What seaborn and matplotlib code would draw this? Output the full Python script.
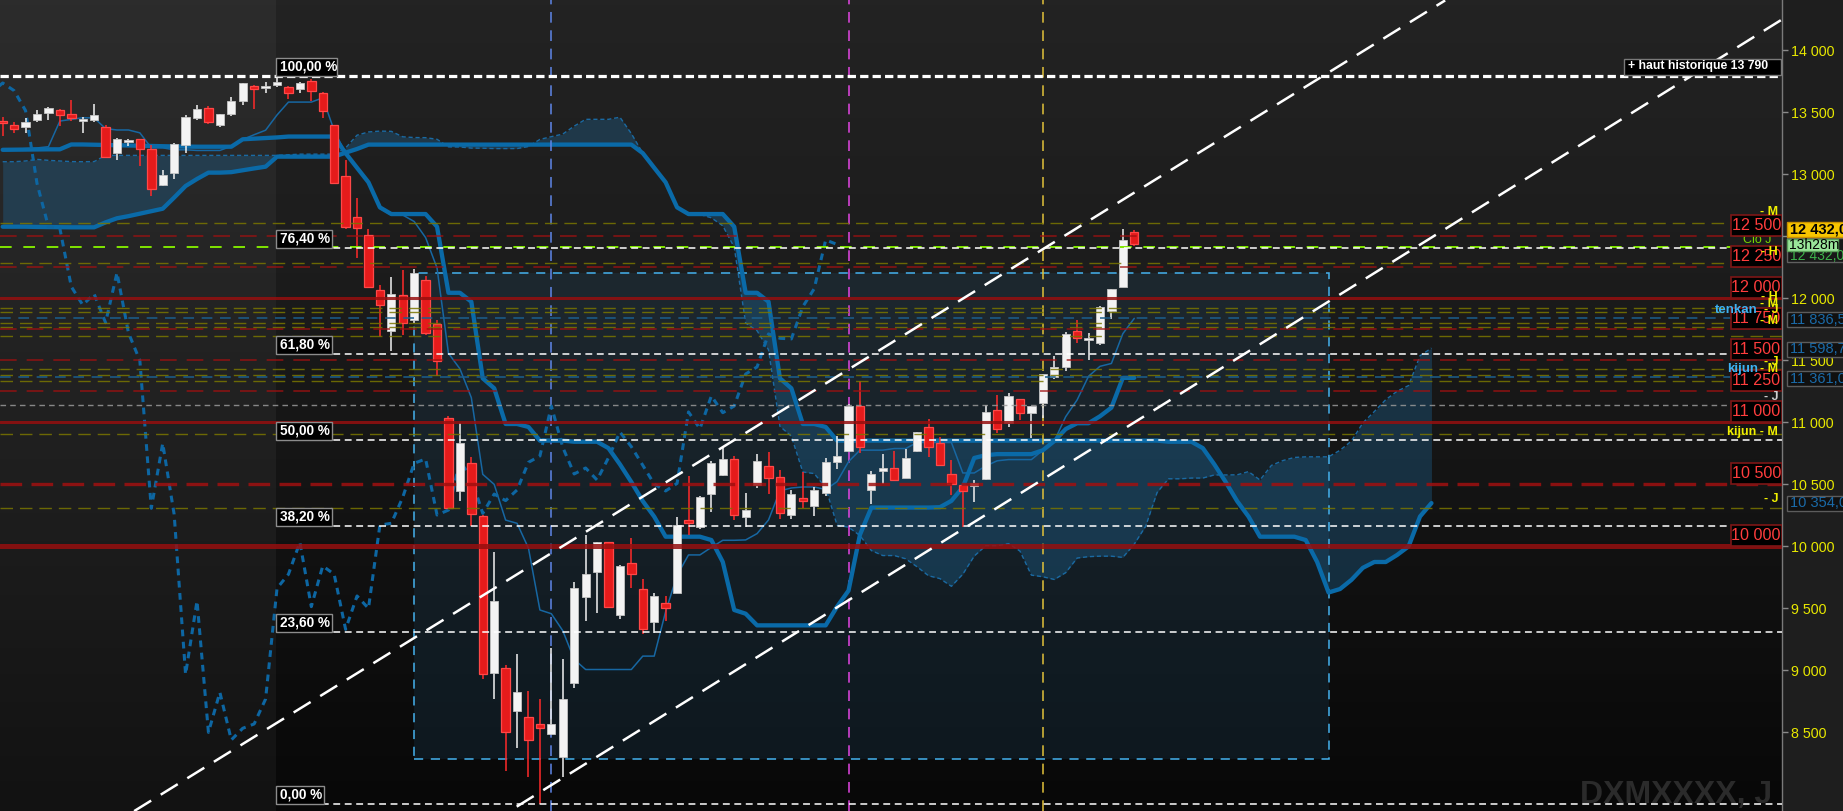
import numpy as np
import pandas as pd
import matplotlib
matplotlib.use('Agg')
import matplotlib.pyplot as plt
import seaborn as sns
from matplotlib.patches import Rectangle
from matplotlib.colors import LinearSegmentedColormap

# ---------------- data ----------------
OPEN = [13427, 13392, 13382, 13436, 13495, 13513, 13481, 13430, 13436, 13382,
        13172, 13258, 13280, 13199, 12911, 13005, 13237, 13454, 13530, 13395,
        13487, 13591, 13707, 13696, 13720, 13699, 13688, 13747, 13651, 13392,
        12981, 12651, 12505, 12065, 11737, 12024, 11823, 12145, 11793, 11030,
        10446, 10667, 10245, 8978, 9014, 8672, 8624, 8562, 8484, 8301,
        8892, 9592, 9793, 10030, 9444, 9860, 9651, 9390, 9538, 9624,
        10210, 10156, 10419, 10572, 10702, 10237, 10492, 10645, 10554, 10250,
        10387, 10325, 10430, 10680, 10769, 11129, 10452, 10607, 10629, 10551,
        10769, 10957, 10833, 10581, 10492, 10484, 10540, 11094, 10995, 11183,
        11075, 11156, 11366, 11446, 11734, 11665, 11640, 11895, 12086, 12530]
HIGH = [13462, 13419, 13452, 13516, 13538, 13522, 13597, 13462, 13565, 13393,
        13288, 13285, 13285, 13234, 13032, 13250, 13476, 13556, 13548, 13481,
        13624, 13731, 13715, 13745, 13780, 13710, 13742, 13763, 13659, 13398,
        13113, 12804, 12554, 12105, 12167, 12226, 12230, 12177, 11823, 11048,
        10989, 10715, 10250, 9949, 9040, 9129, 8831, 8766, 9175, 9086,
        9707, 10089, 10035, 10030, 9847, 10062, 9731, 9618, 9597, 10236,
        10565, 10403, 10688, 10801, 10726, 10430, 10742, 10761, 10613, 10451,
        10599, 10473, 10712, 10887, 11145, 11330, 10608, 10742, 10766, 10785,
        10919, 11022, 10876, 10694, 10492, 10532, 11134, 11218, 11237, 11183,
        11129, 11387, 11535, 11729, 11823, 11715, 11936, 12075, 12556, 12545]
LOW = [13306, 13333, 13333, 13422, 13436, 13387, 13430, 13333, 13422, 13134,
       13113, 13226, 13067, 12825, 12903, 12962, 13172, 13436, 13403, 13379,
       13470, 13556, 13527, 13656, 13704, 13608, 13656, 13591, 13449, 12919,
       12557, 12320, 12086, 11683, 11575, 11702, 11800, 11702, 11371, 10304,
       10366, 10161, 8925, 8764, 8188, 8368, 8140, 7919, 8476, 8135,
       8852, 9398, 9462, 9497, 9409, 9659, 9290, 9296, 9398, 9618,
       10089, 10134, 10277, 10564, 10210, 10151, 10470, 10419, 10215, 10215,
       10304, 10242, 10403, 10618, 10761, 10747, 10339, 10500, 10532, 10546,
       10761, 10720, 10651, 10411, 10156, 10357, 10532, 10914, 10962, 11016,
       10868, 11030, 11344, 11414, 11640, 11500, 11621, 11828, 12086, 12420]
CLOSE = [13408, 13366, 13419, 13484, 13530, 13479, 13452, 13438, 13473, 13140,
         13280, 13274, 13199, 12876, 12989, 13239, 13457, 13522, 13422, 13481,
         13589, 13731, 13688, 13702, 13742, 13656, 13734, 13672, 13511, 12925,
         12575, 12562, 12092, 11944, 12032, 11801, 12204, 11720, 11495, 10304,
         10828, 10255, 8965, 9557, 8497, 8820, 8436, 8530, 8565, 8766,
         9659, 9772, 10030, 9511, 9839, 9772, 9328, 9597, 9497, 10169,
         10183, 10393, 10667, 10702, 10250, 10290, 10686, 10546, 10263, 10419,
         10366, 10452, 10675, 10726, 11129, 10796, 10581, 10629, 10532, 10712,
         10919, 10801, 10651, 10500, 10444, 10505, 11081, 10946, 11210, 11075,
         11129, 11387, 11444, 11710, 11675, 11670, 11930, 12075, 12468, 12432]

TENKAN = [13200, 13200, 13205, 13210, 13220, 13427, 13440, 13454, 13452, 13366,
          13355, 13355, 13332, 13211, 13211, 13195, 13195, 13190, 13190, 13190,
          13224, 13278, 13317, 13353, 13476, 13580, 13580, 13580, 13614, 13350,
          13168, 13050, 12933, 12723, 12669, 12669, 12617, 12487, 12242, 11554,
          11429, 11196, 10578, 10497, 10209, 10183, 9982, 9484, 9454, 9317,
          9085, 9004, 9004, 9004, 9004, 9004, 9112, 9112, 9471, 9763,
          9928, 9928, 9989, 10046, 10046, 10049, 10100, 10210, 10445, 10468,
          10476, 10476, 10456, 10519, 10680, 10773, 10773, 10773, 10786, 10786,
          10835, 10835, 10835, 10835, 10589, 10589, 10645, 10687, 10697, 10697,
          10697, 10772, 10846, 11043, 11178, 11369, 11449, 11472, 11712, 11836]
KIJUN = [13195, 13196, 13197, 13198, 13199, 13199, 13238, 13238, 13236, 13234,
         13232, 13230, 13228, 13226, 13224, 13222, 13221, 13220, 13220, 13220,
         13220, 13280, 13285, 13290, 13295, 13302, 13302, 13302, 13302, 13302,
         13168, 13050, 12933, 12731, 12677, 12677, 12677, 12677, 12575, 12042,
         12042, 11970, 11352, 11272, 10984, 10984, 10960, 10850, 10850, 10850,
         10841, 10841, 10841, 10789, 10659, 10516, 10362, 10237, 10075, 10075,
         10075, 10075, 10048, 9871, 9484, 9454, 9360, 9360, 9360, 9360,
         9360, 9360, 9360, 9511, 9640, 10091, 10310, 10310, 10310, 10310,
         10310, 10310, 10313, 10364, 10474, 10710, 10732, 10741, 10741, 10741,
         10741, 10772, 10846, 10943, 10990, 10990, 11046, 11116, 11356, 11356]
SENKOU_A = [13099, 13099, 13105, 13118, 13110, 13105, 13100, 13099, 13100, 13150,
            13150, 13150, 13150, 13150, 13150, 13150, 13150, 13150, 13150, 13150,
            13150, 13150, 13150, 13150, 13150, 13155, 13160, 13160, 13160, 13160,
            13210, 13313, 13339, 13346, 13344, 13300, 13294, 13293, 13280, 13219,
            13218, 13209, 13208, 13205, 13205, 13205, 13222, 13279, 13301, 13322,
            13386, 13441, 13441, 13441, 13458, 13326, 13168, 13050, 12933, 12727,
            12673, 12673, 12647, 12582, 12409, 11798, 11736, 11583, 10965, 10885,
            10597, 10584, 10471, 10167, 10152, 10084, 9963, 9923, 9923, 9897,
            9832, 9760, 9737, 9675, 9773, 9919, 10002, 10002, 10019, 9959,
            9765, 9752, 9730, 9785, 9903, 9914, 9918, 9918, 9908, 10015,
            10160, 10432, 10542, 10542, 10548, 10548, 10573, 10573, 10574, 10600,
            10532, 10650, 10689, 10714, 10719, 10719, 10719, 10772, 10846, 10993,
            11084, 11180, 11248, 11294, 11534, 11596]
SENKOU_B = [12575, 12575, 12575, 12573, 12572, 12571, 12570, 12570, 12570, 12610,
            12643, 12660, 12680, 12700, 12720, 12810, 12903, 12960, 13011, 13011,
            13015, 13030, 13045, 13059, 13140, 13140, 13140, 13140, 13140, 13140,
            13172, 13202, 13237, 13237, 13237, 13237, 13237, 13237, 13237, 13237,
            13237, 13237, 13237, 13237, 13237, 13237, 13237, 13237, 13237, 13237,
            13237, 13237, 13237, 13237, 13237, 13237, 13168, 13050, 12933, 12731,
            12677, 12677, 12677, 12677, 12575, 12042, 12042, 11970, 11352, 11272,
            10984, 10984, 10960, 10850, 10850, 10850, 10850, 10850, 10850, 10850,
            10850, 10850, 10850, 10850, 10850, 10850, 10850, 10850, 10850, 10850,
            10850, 10850, 10850, 10850, 10850, 10850, 10850, 10850, 10850, 10850,
            10850, 10850, 10841, 10841, 10841, 10789, 10659, 10516, 10362, 10237,
            10075, 10075, 10075, 10075, 10048, 9871, 9625, 9653, 9727, 9824,
            9871, 9871, 9928, 9997, 10238, 10346]
CHIKOU_SHIFT = 26

FIB_VALUES = [13790, 12404, 11547, 10855, 10162, 9305, 7919]
FIB_LABELS = ['100,00 %', '76,40 %', '61,80 %', '50,00 %', '38,20 %', '23,60 %', '0,00 %']
FIB_START = 23.93

ROUND_LEVELS = [12500, 12250, 12000, 11750, 11500, 11250, 11000, 10500, 10000]
RED_DASHED = [12500, 12250, 11750, 11500, 11250]
RED_SOLID = [12000, 11000]
RED_THICK_DASHED = [10500]
RED_THICK_SOLID = [10000]
OLIVE_LEVELS = [12607, 12285, 11917, 11890, 11796, 11769, 11696, 11425, 11379, 11331, 10903, 10304]
GRAY_LEVELS = [11137]
CLOSE_J_LEVEL = 12414
TENKAN_NOW = 11836.5
KIJUN_NOW = 11361
HIGH_HIST = 13790

YTICKS = [8500, 9000, 9500, 10000, 10500, 11000, 11500, 12000, 12500, 13000, 13500, 14000]

VLINES = [48, 74, 91]
VLINE_COLORS = ['#5f86e8', '#e446e4', '#e2c23a']
ZONE_K = [36.0, 116.06]
ZONE_V = [8282, 12199]
CHANNEL_1 = [(11.5, 7862), (126.2, 14400)]
CHANNEL_2 = [(44.97, 7898), (155.7, 14248)]

AXIS_BOXES = [('11 836,50', 11836.5, 311.7), ('11 598,75', 11598.75, 341.7),
              ('11 361,00', 11361, 371.0), ('10 354,00', 10354, 495.7)]

# ---------------- figure ----------------
sns.set_theme(style='dark')
plt.rcParams['font.family'] = ['Liberation Sans', 'DejaVu Sans']

W, H = 1843, 811
AXW = 1782
fig = plt.figure(figsize=(W / 100, H / 100), dpi=100)
fig.patch.set_facecolor('#1e1e1e')
ax = fig.add_axes([0, 0, AXW / W, 1])
ax.set_facecolor('#0a0a0a')

X0, DX = 2.7, 11.43


def KX(px):
    return (px - X0) / DX


def VY(py):
    return 14000 - (py - 50) / 0.124


XMIN, XMAX = KX(0), KX(AXW)
YMIN, YMAX = VY(H), VY(0)
PXV = 1 / 0.124   # value units per pixel
PXK = 1 / DX      # index units per pixel

# background gradient
grad = np.linspace(0, 1, 256).reshape(-1, 1)
cmap = LinearSegmentedColormap.from_list('bg', ['#232323', '#1c1c1c', '#121212', '#080808'])
ax.imshow(grad, extent=[0, 1, 0, 1], transform=ax.transAxes, cmap=cmap,
          aspect='auto', zorder=0, interpolation='bilinear')
ax.axvspan(XMIN, FIB_START, color='white', alpha=0.045, lw=0, zorder=0.5)

# zone rectangle
ax.add_patch(Rectangle((ZONE_K[0], ZONE_V[0]), ZONE_K[1] - ZONE_K[0], ZONE_V[1] - ZONE_V[0],
                       facecolor='#2a7ab0', alpha=0.13, lw=0, zorder=1))
ax.add_patch(Rectangle((ZONE_K[0], ZONE_V[0]), ZONE_K[1] - ZONE_K[0], ZONE_V[1] - ZONE_V[0],
                       facecolor='none', edgecolor='#45b2ee', lw=1.1,
                       linestyle=(0, (6, 5)), zorder=3))

# ichimoku cloud
cloud = pd.DataFrame({'k': np.arange(len(SENKOU_A)), 'ssa': SENKOU_A, 'ssb': SENKOU_B})
ax.fill_between(cloud['k'], cloud['ssa'], cloud['ssb'], color='#1f6ea3', alpha=0.32, lw=0, zorder=2)

ichi = pd.DataFrame({'k': np.arange(len(TENKAN)), 'tenkan': TENKAN, 'kijun': KIJUN,
                     'close': CLOSE})
ichi['chikou_k'] = ichi['k'] - CHIKOU_SHIFT

sns.lineplot(data=cloud, x='k', y='ssa', ax=ax, color='#1a6aa3', lw=1.0,
             linestyle=(0, (3, 2)), zorder=3, estimator=None, sort=False)
sns.lineplot(data=cloud, x='k', y='ssb', ax=ax, color='#0a6aa8', lw=3.1,
             zorder=3, estimator=None, sort=False)
sns.lineplot(data=ichi, x='k', y='tenkan', ax=ax, color='#1767a2', lw=1.1,
             zorder=4, estimator=None, sort=False)
sns.lineplot(data=ichi, x='k', y='kijun', ax=ax, color='#0a6aa8', lw=3.1,
             zorder=4, estimator=None, sort=False)
sns.lineplot(data=ichi, x='chikou_k', y='close', ax=ax, color='#0d66a2', lw=2.2,
             linestyle=(0, (2.2, 1.8)), zorder=4, estimator=None, sort=False)

# vertical dashed lines
for vk, vc in zip(VLINES, VLINE_COLORS):
    ax.axvline(vk, color=vc, lw=1.1, linestyle=(0, (7, 5)), zorder=3)

# candles
o = np.array(OPEN, float)
c = np.array(CLOSE, float)
hi = np.array(HIGH, float)
lo = np.array(LOW, float)
kk = np.arange(len(o))
up = c >= o
bottom = np.minimum(o, c)
height = np.maximum(np.abs(c - o), 14)
ax.vlines(kk[up], lo[up], hi[up], color='#f2f2f2', lw=1.1, zorder=5)
ax.vlines(kk[~up], lo[~up], hi[~up], color='#ff2a2a', lw=1.1, zorder=5)
ax.bar(kk[up], height[up], bottom=bottom[up], width=0.72, color='#f3f3f3',
       edgecolor='#c4c4c4', lw=0.6, zorder=6)
ax.bar(kk[~up], height[~up], bottom=bottom[~up], width=0.74, color='#e51b1b',
       edgecolor='#ff4848', lw=0.9, zorder=6)

# horizontal levels
for v in OLIVE_LEVELS:
    ax.axhline(v, color='#7a7600', lw=1.0, linestyle=(0, (9, 5)), alpha=0.85, zorder=7)
for v in GRAY_LEVELS:
    ax.axhline(v, color='#9a9a9a', lw=1.0, linestyle=(0, (4, 3)), alpha=0.85, zorder=7)
for v in RED_DASHED:
    ax.axhline(v, color='#a01010', lw=1.2, linestyle=(0, (10, 6)), alpha=0.8, zorder=7)
for v in RED_THICK_DASHED:
    ax.axhline(v, color='#a01010', lw=2.4, linestyle=(0, (6.5, 2.8)), alpha=0.85, zorder=7)
for v in RED_SOLID:
    ax.axhline(v, color='#960f0f', lw=2.2, alpha=0.85, zorder=7)
for v in RED_THICK_SOLID:
    ax.axhline(v, color='#960f0f', lw=3.6, alpha=0.85, zorder=7)
ax.axhline(CLOSE_J_LEVEL, color='#80e600', lw=1.4, linestyle=(0, (6, 6)), zorder=7)
for v in (TENKAN_NOW, KIJUN_NOW):
    ax.axhline(v, color='#1b5f8e', lw=1.1, linestyle=(0, (7, 5)), zorder=7)

# fibonacci
for i, (fv, fl) in enumerate(zip(FIB_VALUES, FIB_LABELS)):
    if i == 0:
        ax.axhline(fv, color='white', lw=2.3, linestyle=(0, (2.6, 1.3)), zorder=8)
    else:
        ax.hlines(fv, FIB_START, XMAX, color='white', lw=1.1, linestyle=(0, (4.5, 3)), zorder=8)
    bw = 61 if i == 0 else (48 if i == len(FIB_VALUES) - 1 else 56)
    ax.add_patch(Rectangle((KX(276), fv), bw * PXK, 18 * PXV, facecolor='black',
                           edgecolor='#8c8c8c', lw=1.0, zorder=9))
    ax.text(KX(279.5), fv + 9.3 * PXV, fl, color='white', fontsize=9.8, fontweight='bold',
            ha='left', va='center', zorder=10)

# channel lines
for line in (CHANNEL_1, CHANNEL_2):
    (xa, ya), (xb, yb) = line
    ax.plot([xa, xb], [ya, yb], color='white', lw=1.8, linestyle=(0, (8, 4.5)),
            solid_capstyle='butt', zorder=8)

# round-level boxes
for v in ROUND_LEVELS:
    ax.add_patch(Rectangle((KX(1730.7), v), 51 * PXK, 20.7 * PXV, facecolor='black',
                           edgecolor='#7d1616', lw=1.2, zorder=9))
    ax.text(KX(1756.2), v + 10.6 * PXV, f"{v:,}".replace(',', ' '), color='#ff3d3d',
            fontsize=11.6, ha='center', va='center', zorder=10)

# historic high label
ax.add_patch(Rectangle((KX(1624), HIGH_HIST + 1 * PXV), 157 * PXK, 16.5 * PXV,
                       facecolor='black', edgecolor='#7a7a7a', lw=1.0, zorder=9))
ax.text(KX(1628), HIGH_HIST + 9.6 * PXV, '+ haut historique 13 790', color='white',
        fontsize=8.8, fontweight='bold', ha='left', va='center', zorder=10)

# pivot labels
YEL = '#f0f000'
LBLUE = '#3cb2f2'
piv = [('- M', YEL, 212, 1778), ('- H', YEL, 252, 1778), ('- H', YEL, 297, 1778),
       ('- M', YEL, 304, 1778), ('- J', YEL, 310, 1778), ('- M', YEL, 321, 1778),
       ('- J', YEL, 362, 1778), ('- M', YEL, 369, 1778), ('- J', '#d0d0d0', 397, 1778),
       ('kijun - M', YEL, 432, 1778), ('- J', YEL, 499, 1778)]
for s, col, py, px in piv:
    ax.text(KX(px), VY(py), s, color=col, fontsize=9, fontweight='bold', ha='right',
            va='center', zorder=11)
ax.text(KX(1758), VY(310), 'tenkan', color=LBLUE, fontsize=9.5, fontweight='bold',
        ha='right', va='center', zorder=11)
ax.text(KX(1758), VY(369), 'kijun', color=LBLUE, fontsize=9.5, fontweight='bold',
        ha='right', va='center', zorder=11)
ax.text(KX(1771), VY(240), 'Clô J', color='#78d800', fontsize=9, ha='right',
        va='center', zorder=8.5)

# axis styling
for s in ax.spines.values():
    s.set_visible(False)
ax.spines['right'].set_visible(True)
ax.spines['right'].set_color('#7a7a7a')
ax.spines['right'].set_linewidth(1.0)
ax.grid(False)
ax.set_xlabel('')
ax.set_ylabel('')
ax.yaxis.tick_right()
ax.set_yticks(YTICKS)
ax.set_yticklabels([f"{t:,}".replace(',', ' ') for t in YTICKS])
ax.tick_params(axis='y', which='both', right=True, left=False, labelright=True,
               labelleft=False, length=4, width=1, color='#8a8a8a', pad=2.5,
               labelcolor='#e8e800', labelsize=10.3)
ax.tick_params(axis='x', bottom=False, labelbottom=False)
ax.set_xlim(XMIN, XMAX)
ax.set_ylim(YMIN, YMAX)


# right panel value boxes (figure coords)
def fbox(x0, y0, x1, y1, fc, ec, lw=1.0, z=5):
    fig.patches.append(Rectangle((x0 / W, 1 - y1 / H), (x1 - x0) / W, (y1 - y0) / H,
                                 transform=fig.transFigure, facecolor=fc, edgecolor=ec,
                                 lw=lw, zorder=z, figure=fig))


def ftext(x, y, s, **kw):
    fig.text(x / W, 1 - y / H, s, **kw)


for s, v, y0 in AXIS_BOXES:
    fbox(1787, y0, 1846, y0 + 15, '#101010', '#5c5c5c')
    ftext(1790, y0 + 7.8, s, color='#1a6aa8', fontsize=10.5, ha='left', va='center', zorder=6)

fbox(1787, 238, 1846, 262, '#181818', '#606060')
ftext(1790, 256, '12 432,00', color='#3cb24a', fontsize=10, ha='left', va='center', zorder=6)
fbox(1787, 239.3, 1838, 250.7, '#9ae69a', '#5aa05a', z=7)
ftext(1789, 245.2, '13h28m', color='black', fontsize=10, ha='left', va='center', zorder=8)
fbox(1787, 221.7, 1846, 236.7, '#f7c500', '#c89000', z=7)
ftext(1789.5, 229.4, '12 432,00', color='black', fontsize=10.5, fontweight='bold',
      ha='left', va='center', zorder=8)

# watermark
ftext(1772, 803, 'DXMXXXX, J', color='#2b2b2b', fontsize=23, fontweight='bold',
      ha='right', va='baseline', zorder=2)

fig.savefig('out.png', dpi=100, facecolor=fig.get_facecolor())
